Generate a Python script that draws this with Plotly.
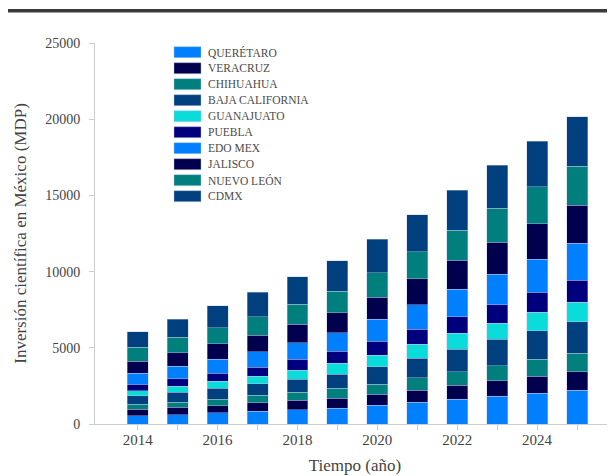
import plotly.graph_objects as go

years = [2014, 2015, 2016, 2017, 2018, 2019, 2020, 2021, 2022, 2023, 2024, 2025]
x_tick_labels = ["2014", "", "2016", "", "2018", "", "2020", "", "2022", "", "2024", ""]
y_tick_values = [0, 5000, 10000, 15000, 20000, 25000]
y_tick_labels = ["0", "5000", "10000", "15000", "20000", "25000"]

states = ["QUERÉTARO", "VERACRUZ", "CHIHUAHUA", "BAJA CALIFORNIA", "GUANAJUATO",
          "PUEBLA", "EDO MEX", "JALISCO", "NUEVO LEÓN", "CDMX"]

queretaro = [547, 612, 744, 853, 940, 1050, 1247, 1443, 1618, 1815, 2012, 2209]
veracruz = [416, 481, 459, 547, 612, 634, 700, 787, 919, 1028, 1115, 1225]
chihuahua = [328, 350, 416, 481, 525, 656, 678, 809, 897, 984, 1115, 1203]
baja_california = [547, 634, 722, 765, 853, 940, 1137, 1290, 1487, 1728, 1881, 2078]
guanajuato = [328, 394, 459, 503, 612, 700, 765, 919, 1028, 1050, 1203, 1268]
puebla = [459, 503, 525, 590, 700, 809, 897, 962, 1094, 1225, 1312, 1465]
edo_mex = [700, 831, 919, 1006, 1094, 1203, 1443, 1618, 1793, 2012, 2187, 2406]
jalisco = [809, 875, 1006, 1072, 1203, 1312, 1443, 1706, 1925, 2078, 2318, 2515]
nuevo_leon = [897, 1006, 1072, 1225, 1312, 1400, 1618, 1771, 1968, 2231, 2428, 2559]
cdmx = [1028, 1203, 1443, 1597, 1815, 2012, 2209, 2428, 2624, 2821, 2996, 3237]

series = [queretaro, veracruz, chihuahua, baja_california, guanajuato,
          puebla, edo_mex, jalisco, nuevo_leon, cdmx]
colors = ["#0080FF", "#00004F", "#007F7F", "#00407F", "#0ADCDC",
          "#00007F", "#0080FF", "#00004F", "#007F7F", "#00407F"]

OFF = 8  # page body margin
W, H = 615 - OFF, 476 - OFF
L, R, T, B = 95 - OFF, 0, 43 - OFF, 476 - 424
pw = W - L - R
ph = H - T - B

font_family = "Liberation Serif, Times New Roman, serif"

fig = go.Figure()
for name, vals, col in zip(states, series, colors):
    fig.add_trace(go.Bar(
        x=years, y=vals, name=name, width=0.525,
        marker=dict(color=col, line=dict(color="rgba(190,200,225,0.7)", width=0.6)),
        showlegend=False,
    ))

# page-pixel -> paper coordinate helpers
def px_x(px):
    return (px - OFF - L) / pw

def px_y(py):
    return (H - B - (py - OFF)) / ph

shapes = []
annotations = []
for i, (name, col) in enumerate(zip(states, colors)):
    cy = 52.2 + i * 16.0
    shapes.append(dict(type="rect", xref="paper", yref="paper",
                       x0=px_x(174), x1=px_x(201),
                       y0=px_y(cy + 5.5), y1=px_y(cy - 5.5),
                       fillcolor=col, line=dict(color="rgba(190,200,225,0.7)", width=0.6)))
    annotations.append(dict(xref="paper", yref="paper", x=px_x(206), y=px_y(cy),
                            text=name, showarrow=False, xanchor="left", yanchor="middle",
                            font=dict(family=font_family, size=11.5, color="#4a4a4a")))

# top dark rule
shapes.append(dict(type="line", xref="paper", yref="paper",
                   x0=px_x(7), x1=px_x(615),
                   y0=px_y(10.7), y1=px_y(10.7),
                   line=dict(color="#3a3a3a", width=3.5)))

fig.update_layout(
    width=W, height=H,
    margin=dict(l=L, r=R, t=T, b=B, pad=0),
    barmode="stack",
    plot_bgcolor="white", paper_bgcolor="white",
    font=dict(family=font_family, color="#444444"),
    shapes=shapes,
    annotations=annotations,
    xaxis=dict(
        range=[2012.93, 2025.95],
        tickvals=years, ticktext=x_tick_labels,
        ticks="outside", ticklen=5, tickcolor="#cccccc",
        ticklabelstandoff=-3,
        showline=True, linecolor="#cccccc", linewidth=1,
        showgrid=False, zeroline=False,
        tickfont=dict(family=font_family, size=15, color="#444444"),
        title=dict(text="Tiempo (año)", standoff=12,
                   font=dict(family=font_family, size=17, color="#444444")),
    ),
    yaxis=dict(
        range=[0, 25000],
        tickvals=y_tick_values, ticktext=y_tick_labels,
        ticks="outside", ticklen=5, tickcolor="#cccccc",
        ticklabelstandoff=6,
        showline=True, linecolor="#cccccc", linewidth=1,
        showgrid=False, zeroline=False,
        tickfont=dict(family=font_family, size=14, color="#444444"),
        title=dict(text="Inversión científica en México (MDP)", standoff=14,
                   font=dict(family=font_family, size=17, color="#444444")),
    ),
)

fig.write_html("out.html")
